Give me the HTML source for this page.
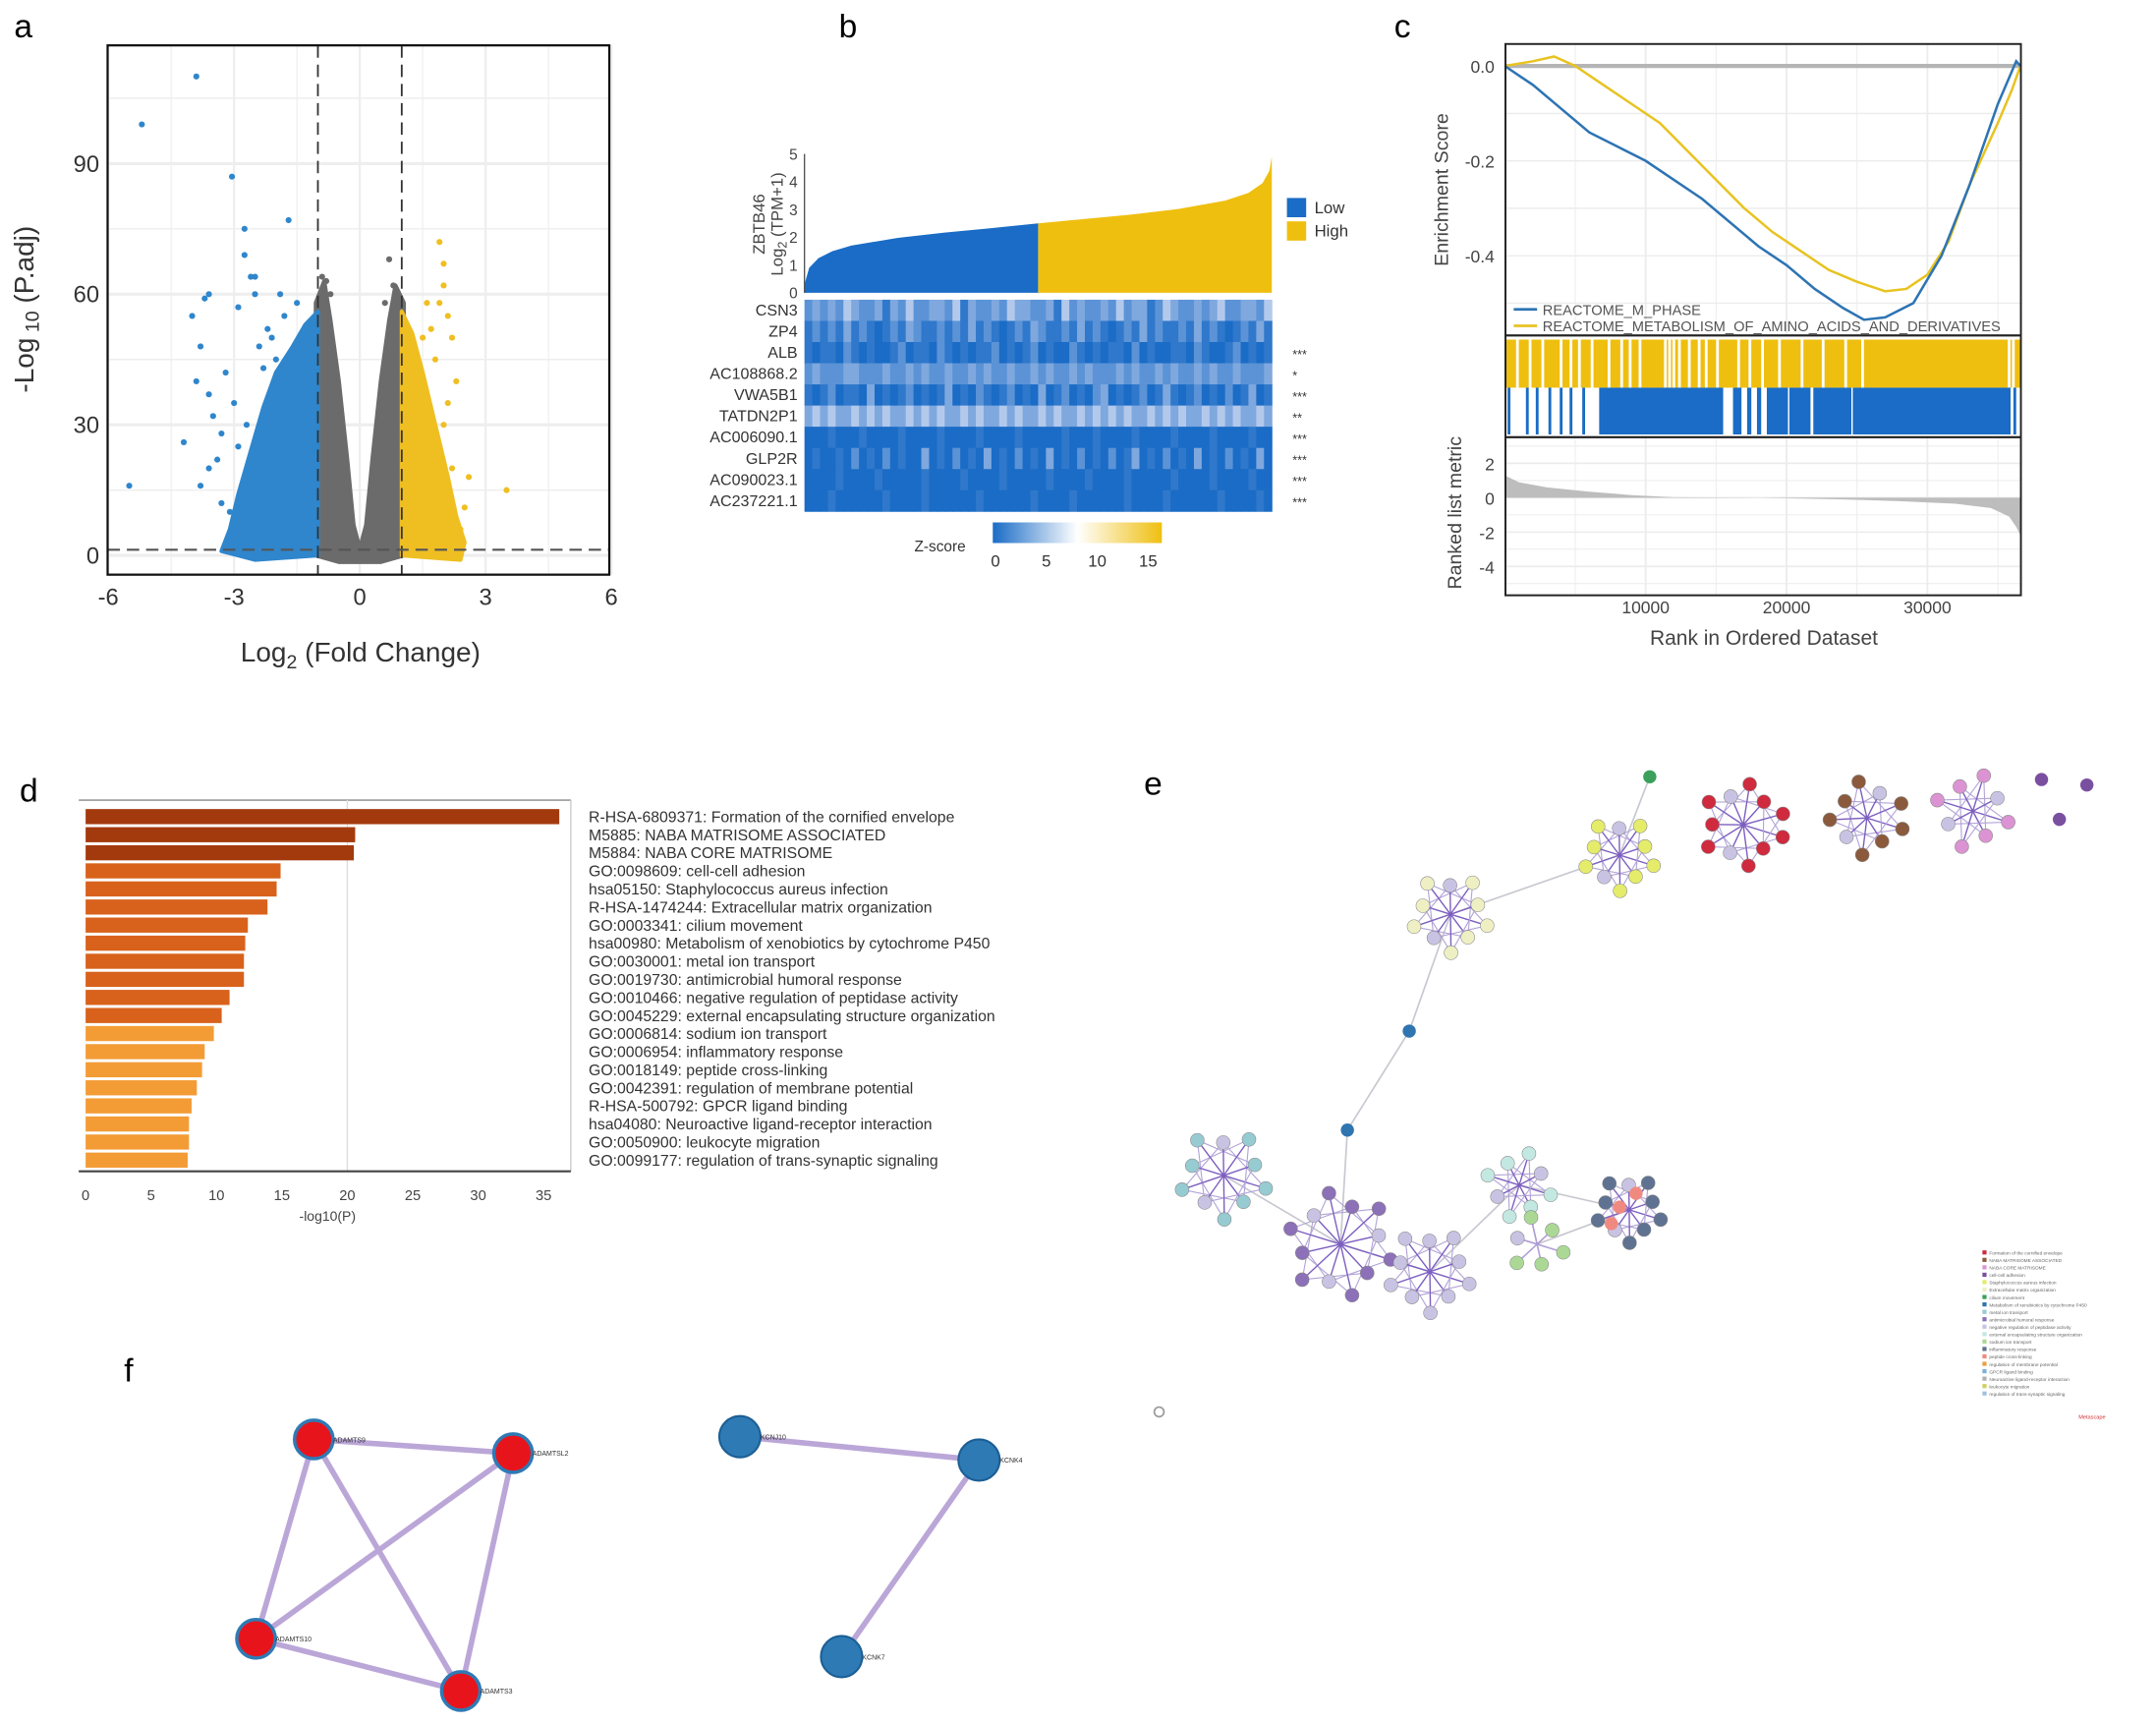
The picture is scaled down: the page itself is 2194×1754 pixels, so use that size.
<!DOCTYPE html>
<html><head><meta charset="utf-8"><style>
html,body{margin:0;padding:0;background:#fff;}
svg{display:block;font-family:"Liberation Sans",sans-serif;}
</style></head><body>
<svg id="fig" width="2194" height="1754" viewBox="0 0 1568 1254" xmlns="http://www.w3.org/2000/svg">
<defs>
<linearGradient id="zg" x1="0" x2="1" y1="0" y2="0">
<stop offset="0" stop-color="#1a6cc6"/><stop offset="0.5" stop-color="#ffffff"/><stop offset="1" stop-color="#efbf10"/>
</linearGradient>
</defs>
<rect x="0" y="0" width="1568" height="1254" fill="#fff"/>
<text x="10" y="27" font-size="24">a</text>
<text x="610" y="27" font-size="24">b</text>
<text x="1014" y="27" font-size="24">c</text>
<text x="14" y="583" font-size="24">d</text>
<text x="832" y="578" font-size="24">e</text>
<text x="90" y="1005" font-size="24">f</text>
<g id="pa"></g>
<g id="pb"></g>
<g id="pc"></g>
<g id="pd"></g>
<g id="pe"></g>
<g id="pf"></g>
</svg>
<script>
// ---------- DATA ----------
// Panel a
const volcXTicks=[-6,-3,0,3,6];
const volcYTicks=[0,30,60,90];
const grayCloud=[[-1.05,0],[-1.05,58],[-0.85,63],[-0.7,54],[-0.5,40],[-0.3,22],[-0.15,7],[0,1.5],[0.15,7],[0.3,22],[0.5,40],[0.7,54],[0.85,62],[1.05,58],[1.05,0],[0.5,-1.5],[-0.5,-1.5]];
const blueCloud=[[-1,0],[-1,56],[-1.3,53],[-1.6,48],[-2,42],[-2.3,34],[-2.6,24],[-2.9,14],[-3.1,6],[-3.3,1],[-2.5,-1]];
const yellowCloud=[[1,0],[1,56],[1.25,51],[1.5,42],[1.8,30],[2.1,18],[2.3,9],[2.5,3],[2.4,-1]];
const bluePts=[[-3.9,110],[-5.2,99],[-3.05,87],[-1.7,77],[-2.75,75],[-2.75,69],[-2.6,64],[-2.5,64],[-3.6,60],[-3.7,59],[-2.5,60],[-2.9,57],[-4.0,55],[-3.8,48],[-3.2,42],[-3.9,40],[-3.6,37],[-3.5,32],[-4.2,26],[-3.8,16],[-5.5,16],[-3.4,22],[-2.2,52],[-2.0,45],[-1.8,55],[-3.3,12],[-3.1,10],[-2.8,8],[-2.4,48],[-2.1,50],[-1.5,58],[-3.0,35],[-3.3,28],[-2.9,25],[-2.7,30],[-3.6,20],[-1.9,60],[-2.3,43]];
const yellowPts=[[1.9,72],[2.0,67],[2.0,62],[1.9,58],[2.1,55],[2.2,50],[1.7,52],[2.3,40],[2.0,30],[2.2,20],[3.5,15],[2.5,11],[2.2,7],[2.4,6],[1.6,58],[1.5,50],[1.8,45],[2.1,35],[1.9,25],[2.6,18]];
const grayPts=[[0.7,68],[-0.8,63],[-0.9,64],[-0.7,60],[0.8,62],[0.6,58]];
// Panel b
const bFrac=[0,0.01,0.03,0.06,0.1,0.2,0.3,0.4,0.5,0.6,0.7,0.8,0.9,0.95,0.98,0.995,1];
const bVal=[0.3,0.9,1.25,1.5,1.7,1.98,2.17,2.33,2.5,2.66,2.82,3.02,3.32,3.6,3.95,4.4,4.9];
const bYTicks=[0,1,2,3,4,5];
const genes=["CSN3","ZP4","ALB","AC108868.2","VWA5B1","TATDN2P1","AC006090.1","GLP2R","AC090023.1","AC237221.1"];
const sig=["","","***","*","***","**","***","***","***","***"];
const heatRows=[
"232324322313242233241322324332231423223242331243223234223324",
"121213121012132112121312101213211213121012131211213121012131",
"101102101001201102101011201012010021010110201001102100120101",
"232223322232232322322323223223232232322232322323223232232223",
"101201103010120101301021012010301201023010120131012010201301",
"343433434343343434334343343433434334343434334343433434343343",
"000100010000100001000010000100000100010000100001000010000100",
"010010201020100301020103010201030102010201301020103010201030",
"000010000100000100001000010000010000100001000001000010000100",
"000100000010000100000010000001000010000001000010000001000010"];
const zTicks=[0,5,10,15];
// Panel c
const blueES=[[0,0],[1000,-0.02],[2000,-0.04],[4000,-0.09],[6000,-0.14],[8000,-0.17],[10000,-0.2],[12000,-0.24],[14000,-0.28],[16000,-0.33],[18000,-0.38],[20000,-0.42],[22000,-0.47],[24000,-0.51],[25500,-0.535],[27000,-0.53],[29000,-0.5],[31000,-0.4],[33000,-0.25],[35000,-0.08],[36300,0.01],[36600,0]];
const yellowES=[[0,0],[2000,0.01],[3500,0.02],[5000,0.0],[7000,-0.04],[9000,-0.08],[11000,-0.12],[13000,-0.18],[15000,-0.24],[17000,-0.3],[19000,-0.35],[21000,-0.39],[23000,-0.43],[25000,-0.455],[27000,-0.475],[28500,-0.47],[30000,-0.44],[31500,-0.37],[33000,-0.25],[35000,-0.12],[36000,-0.05],[36600,0]];
const yellowGaps=[800,1700,2600,3900,4600,5200,6100,7300,8200,8800,9500,11300,11600,11900,12300,13000,13700,14200,15000,16500,17300,18200,19400,21000,22500,24100,25300,35700,36000];
const blueHits=[[200,400],[1500,1700],[2200,2400],[3100,3300],[3900,4100],[4600,4800],[5500,5700],[6700,15500],[16200,16800],[17200,17500],[17900,18200],[18600,20100],[20200,21700],[21900,24600],[24700,35900],[36100,36300]];
const metric=[[0,1.3],[1000,0.9],[3000,0.6],[6000,0.35],[9000,0.15],[12000,0.03],[18000,0],[24000,-0.1],[28000,-0.2],[32000,-0.35],[34500,-0.6],[35800,-1.1],[36300,-1.7],[36600,-2.2]];
const rankTicks=[10000,20000,30000];
const esTicks=[0,-0.2,-0.4];
const metricTicks=[2,0,-2,-4];
// Panel d
const terms=["R-HSA-6809371: Formation of the cornified envelope","M5885: NABA MATRISOME ASSOCIATED","M5884: NABA CORE MATRISOME","GO:0098609: cell-cell adhesion","hsa05150: Staphylococcus aureus infection","R-HSA-1474244: Extracellular matrix organization","GO:0003341: cilium movement","hsa00980: Metabolism of xenobiotics by cytochrome P450","GO:0030001: metal ion transport","GO:0019730: antimicrobial humoral response","GO:0010466: negative regulation of peptidase activity","GO:0045229: external encapsulating structure organization","GO:0006814: sodium ion transport","GO:0006954: inflammatory response","GO:0018149: peptide cross-linking","GO:0042391: regulation of membrane potential","R-HSA-500792: GPCR ligand binding","hsa04080: Neuroactive ligand-receptor interaction","GO:0050900: leukocyte migration","GO:0099177: regulation of trans-synaptic signaling"];
const logP=[36.2,20.6,20.5,14.9,14.6,13.9,12.4,12.2,12.1,12.1,11.0,10.4,9.8,9.1,8.9,8.5,8.1,7.9,7.9,7.8];
const dTicks=[0,5,10,15,20,25,30,35];
// Panel e clusters: [cx, cy, radius, count, fill]
const clusters=[[1178,622,26,10,"#e4ec6a"],[1268,600,30,11,"#cf2a3e"],[1358,595,27,9,"#8b5a3c"],[1435,590,27,8,"#dc93d3"],[1055,665,28,10,"#eef0c4"],[890,855,32,10,"#96cbd2"],[975,905,38,12,"#8c70b8"],[1040,925,30,10,"#c9c3e3"],[1105,862,24,8,"#c3e8e2"],[1118,905,20,6,"#abd995"],[1185,880,24,10,"#5f7291"]];
const singles=[[1200,565,"#3aa05a"],[1025,750,"#2f75b0"],[980,822,"#2f75b0"],[1485,567,"#7a4fa0"],[1518,571,"#7a4fa0"],[1498,596,"#7a4fa0"],[1178,878,"#f08a80"],[1190,868,"#f08a80"],[1172,890,"#f08a80"]];
const longEdges=[[1055,665,1178,622],[1055,665,1025,750],[1025,750,980,822],[980,822,975,905],[975,905,890,855],[1040,925,1105,862],[1105,862,1185,880],[1118,905,1185,880],[1178,622,1200,565],[975,905,1040,925]];
const legendTerms=["Formation of the cornified envelope","NABA MATRISOME ASSOCIATED","NABA CORE MATRISOME","cell-cell adhesion","Staphylococcus aureus infection","Extracellular matrix organization","cilium movement","Metabolism of xenobiotics by cytochrome P450","metal ion transport","antimicrobial humoral response","negative regulation of peptidase activity","external encapsulating structure organization","sodium ion transport","inflammatory response","peptide cross-linking","regulation of membrane potential","GPCR ligand binding","Neuroactive ligand-receptor interaction","leukocyte migration","regulation of trans-synaptic signaling"];
const legendColors=["#cf2a3e","#8b5a3c","#dc93d3","#7a4fa0","#e4ec6a","#eef0c4","#3aa05a","#2f75b0","#96cbd2","#8c70b8","#c9c3e3","#c3e8e2","#abd995","#5f7291","#f08a80","#e8a040","#7fb0d8","#b0b0b0","#d0d060","#a0c0e0"];
// Panel f
const redNodes=[[228,1047,"ADAMTS9"],[373,1057,"ADAMTSL2"],[186,1192,"ADAMTS10"],[335,1230,"ADAMTS3"]];
const redEdges=[[0,1],[0,2],[0,3],[1,2],[1,3],[2,3]];
const blueNodes=[[538,1045,"KCNJ10"],[712,1062,"KCNK4"],[612,1205,"KCNK7"]];
const blueEdges=[[0,1],[1,2]];

// ---------- HELPERS ----------
const NS="http://www.w3.org/2000/svg";
function mk(tag,parent,attrs){const e=document.createElementNS(NS,tag);for(const k in attrs)e.setAttribute(k,attrs[k]);parent.appendChild(e);return e;}
function txt(parent,x,y,s,size,anchor,extra){const e=mk('text',parent,Object.assign({x:x,y:y,'font-size':size,'text-anchor':anchor||'start'},extra||{}));e.textContent=s;return e;}
function pathFrom(pts,fx,fy){return pts.map((p,i)=>(i?'L':'M')+fx(p[0]).toFixed(2)+' '+fy(p[1]).toFixed(2)).join(' ');}

// ---------- PANEL A ----------
(function(){
const g=document.getElementById('pa');
const X=v=>261.5+v*30.5, Y=v=>404-v*3.167;
const L=78,R=443,T=33,B=418;
for(let v=-6;v<=6;v+=1.5){const e=mk('line',g,{x1:X(v),x2:X(v),y1:T,y2:B,stroke:'#eeeeee','stroke-width':(v%3===0)?1.6:0.8});

}
for(let v=-15;v<=120;v+=15){if(Y(v)<T||Y(v)>B)continue;const e=mk('line',g,{x1:L,x2:R,y1:Y(v),y2:Y(v),stroke:'#eeeeee','stroke-width':(v%30===0)?2.2:1});

}
[[grayCloud,'#6b6b6b'],[blueCloud,'#2f86cc'],[yellowCloud,'#efbf22']].forEach(c=>{const e=mk('path',g,{d:pathFrom(c[0],X,Y)+'Z',fill:c[1],stroke:c[1],'stroke-width':3,'stroke-linejoin':'round'});

});
[[bluePts,'#2f86cc'],[yellowPts,'#efbf22'],[grayPts,'#6b6b6b']].forEach(c=>c[0].forEach(p=>{const e=mk('circle',g,{cx:X(p[0]),cy:Y(p[1]),r:2.2,fill:c[1]});

}));
[-1,1].forEach(v=>{const e=mk('line',g,{x1:X(v),x2:X(v),y1:T,y2:B,stroke:'#333','stroke-width':1.3,'stroke-dasharray':'9,5'});

});
const h=mk('line',g,{x1:L,x2:R,y1:Y(1.3),y2:Y(1.3),stroke:'#555','stroke-width':1.5,'stroke-dasharray':'9,5'});


const box=mk('rect',g,{x:L,y:T,width:R-L,height:B-T,fill:'none',stroke:'#111','stroke-width':1.6});


volcXTicks.forEach(v=>{const e=txt(g,X(v),440,String(v),17,'middle',{fill:'#333'});

});
volcYTicks.forEach(v=>{const e=txt(g,72,Y(v)+6,String(v),17,'end',{fill:'#333'});

});
const xt=mk('text',g,{x:262,y:481,'font-size':20,'text-anchor':'middle',fill:'#333'});
xt.innerHTML='Log<tspan font-size="14" dy="5">2</tspan><tspan dy="-5"> (Fold Change)</tspan>';


const yt=mk('text',g,{x:0,y:0,'font-size':20,'text-anchor':'middle',fill:'#333',transform:'translate(24,225) rotate(-90)'});
yt.innerHTML='-Log<tspan font-size="14" dy="4"> 10</tspan><tspan dy="-4"> (P.adj)</tspan>';


})();

// ---------- PANEL B ----------
(function(){
const g=document.getElementById('pb');
const x0=585,x1=925,W=x1-x0;
const X=f=>x0+f*W, Y=v=>213-v*20.2;
const mid=bFrac.indexOf(0.5);
const lowPts=bFrac.slice(0,mid+1).map((f,i)=>[f,bVal[i]]);
const hiPts=bFrac.slice(mid).map((f,i)=>[f,bVal[i+mid]]);
const lp=mk('path',g,{d:'M'+X(0)+' '+Y(0)+' '+pathFrom(lowPts,X,Y).replace('M','L')+' L'+X(0.5)+' '+Y(0)+'Z',fill:'#1a6cc6'});


const hp=mk('path',g,{d:'M'+X(0.5)+' '+Y(0)+' '+pathFrom(hiPts,X,Y).replace('M','L')+' L'+X(1)+' '+Y(0)+'Z',fill:'#efbf10'});


const ax=mk('line',g,{x1:x0,x2:x0,y1:Y(5),y2:Y(0),stroke:'#555','stroke-width':1});


bYTicks.forEach(v=>{const e=txt(g,580,Y(v)+4,String(v),11,'end',{fill:'#444'});

});
const t1=txt(g,0,0,'ZBTB46',12,'middle',{fill:'#444',transform:'translate(556,163) rotate(-90)'});


const t2=mk('text',g,{x:0,y:0,'font-size':12,'text-anchor':'middle',fill:'#444',transform:'translate(569,163) rotate(-90)'});
t2.innerHTML='Log<tspan font-size="9" dy="3">2</tspan><tspan dy="-3"> (TPM+1)</tspan>';


[['#1a6cc6','Low',150],['#efbf10','High',167]].forEach(l=>{const r=mk('rect',g,{x:936,y:l[2]-6,width:14,height:14,fill:l[0]});


const t=txt(g,956,l[2]+5,l[1],12,'start',{fill:'#333'});

});
const lv=['#1a6cc6','#2f78cb','#5b93d6','#7fa8de','#b3c9ec'];
const hy0=218,rh=15.4;
heatRows.forEach((row,ri)=>{const cw=W/row.length;
for(let c=0;c<row.length;c++){const e=mk('rect',g,{x:(x0+c*cw).toFixed(2),y:hy0+ri*rh,width:(cw+0.4).toFixed(2),height:rh+0.3,fill:lv[+row[c]]});

}
const gl=txt(g,580,hy0+ri*rh+11.5,genes[ri],11.5,'end',{fill:'#333'});


const s=txt(g,940,hy0+ri*rh+12,sig[ri],9,'start',{fill:'#333'});

});
const cb=mk('rect',g,{x:722,y:380,width:123,height:15,fill:'url(#zg)'});


const zl=txt(g,665,401,'Z-score',11,'start',{fill:'#333'});


zTicks.forEach(v=>{const e=txt(g,724+v*7.4,412,String(v),12,'middle',{fill:'#333'});

});
})();

// ---------- PANEL C ----------
(function(){
const g=document.getElementById('pc');
const X=r=>1094.5+r*0.01025, Y=v=>48-v*345, M=v=>362-v*12.5;
const L=1095,R=1470;
for(let r=5000;r<36600;r+=5000){const e=mk('line',g,{x1:X(r),x2:X(r),y1:32,y2:244,stroke:'#ececec','stroke-width':r%10000?0.7:1.3});


const e2=mk('line',g,{x1:X(r),x2:X(r),y1:318,y2:433,stroke:'#ececec','stroke-width':r%10000?0.7:1.3});

}
for(let v=0.1;v>-0.6;v-=0.1){if(Y(v)<32||Y(v)>244)continue;const e=mk('line',g,{x1:L,x2:R,y1:Y(v),y2:Y(v),stroke:'#ececec','stroke-width':1});

}
for(let v=3;v>=-5;v-=1){if(M(v)<318||M(v)>433)continue;const e=mk('line',g,{x1:L,x2:R,y1:M(v),y2:M(v),stroke:'#ececec','stroke-width':v%2?0.7:1.2});

}
const z=mk('line',g,{x1:L,x2:R,y1:Y(0),y2:Y(0),stroke:'#b5b5b5','stroke-width':3});


const yl=mk('path',g,{d:pathFrom(yellowES,X,Y),fill:'none',stroke:'#e8c321','stroke-width':1.8});


const bl=mk('path',g,{d:pathFrom(blueES,X,Y),fill:'none',stroke:'#2d74b3','stroke-width':1.8});


const yb=mk('rect',g,{x:X(0),y:247,width:X(36600)-X(0),height:35,fill:'#efbf10'});


yellowGaps.forEach(r=>{const e=mk('rect',g,{x:X(r),y:247,width:2,height:35,fill:'#fff'});

});
blueHits.forEach(s=>{const e=mk('rect',g,{x:X(s[0]),y:282,width:Math.max(1.5,X(s[1])-X(s[0])),height:34,fill:'#1a6cc6'});

});
const mp=mk('path',g,{d:pathFrom(metric,X,M)+' L'+X(36600)+' '+M(0)+' L'+X(0)+' '+M(0)+'Z',fill:'#bdbdbd'});


[[32,244],[244,318],[318,433]].forEach(b=>{const e=mk('rect',g,{x:L,y:b[0],width:R-L,height:b[1]-b[0],fill:'none',stroke:'#222','stroke-width':1.4});

});
esTicks.forEach(v=>{const e=txt(g,1087,Y(v)+5,v.toFixed(1),12.5,'end',{fill:'#444'});

});
metricTicks.forEach(v=>{const e=txt(g,1087,M(v)+5,String(v),12.5,'end',{fill:'#444'});

});
rankTicks.forEach(r=>{const e=txt(g,X(r),446,String(r),12.5,'middle',{fill:'#444'});

});
const a1=txt(g,0,0,'Enrichment Score',14,'middle',{fill:'#444',transform:'translate(1053,138) rotate(-90)'});


const a2=txt(g,0,0,'Ranked list metric',14,'middle',{fill:'#444',transform:'translate(1063,373) rotate(-90)'});


const a3=txt(g,1283,469,'Rank in Ordered Dataset',15,'middle',{fill:'#444'});


[['#2d74b3','REACTOME_M_PHASE',225],['#e8c321','REACTOME_METABOLISM_OF_AMINO_ACIDS_AND_DERIVATIVES',237]].forEach(l=>{const e=mk('line',g,{x1:1101,x2:1118,y1:l[2],y2:l[2],stroke:l[0],'stroke-width':2});


const t=txt(g,1122,l[2]+4,l[1],10.5,'start',{fill:'#555'});

});
})();

// ---------- PANEL D ----------
(function(){
const g=document.getElementById('pd');
const X=v=>62+v*9.52;
const fr=mk('line',g,{x1:57,x2:415,y1:582,y2:582,stroke:'#888','stroke-width':1});


const fl=mk('line',g,{x1:415,x2:415,y1:582,y2:852,stroke:'#ccc','stroke-width':1});


const gl=mk('line',g,{x1:X(20),x2:X(20),y1:582,y2:852,stroke:'#ddd','stroke-width':1});


logP.forEach((v,i)=>{const col=i<3?'#a33a0e':(i<12?'#d8621c':'#f39c36');
const y=594+i*13.15;
const b=mk('rect',g,{x:X(0),y:(y-5.5).toFixed(2),width:(X(v)-X(0)).toFixed(2),height:11,fill:col});


const t=txt(g,428,y+4,terms[i],11.3,'start',{fill:'#333'});

});
const ax=mk('line',g,{x1:57,x2:415,y1:852,y2:852,stroke:'#444','stroke-width':1.5});


dTicks.forEach(v=>{const e=txt(g,X(v),873,String(v),10.5,'middle',{fill:'#444'});

});
const xt=txt(g,238,888,'-log10(P)',10,'middle',{fill:'#444'});


})();

// ---------- PANEL E ----------
(function(){
const g=document.getElementById('pe');
longEdges.forEach(e0=>{const e=mk('line',g,{x1:e0[0],y1:e0[1],x2:e0[2],y2:e0[3],stroke:'#c8c8d0','stroke-width':1.2});

});
clusters.forEach(c=>{const pts=[];
for(let k=0;k<c[3];k++){const a=k*2*Math.PI/c[3]+0.3;const rr=c[2]*(k%2?0.75:1);pts.push([c[0]+rr*Math.cos(a),c[1]+rr*Math.sin(a)]);}
pts.forEach((p,k)=>{const e=mk('line',g,{x1:c[0],y1:c[1],x2:p[0],y2:p[1],stroke:'#7d5fc0','stroke-width':1});


const q=pts[(k+3)%pts.length];const e2=mk('line',g,{x1:p[0],y1:p[1],x2:q[0],y2:q[1],stroke:'#b3a4d8','stroke-width':0.8});

});
pts.forEach((p,k)=>{const e=mk('circle',g,{cx:p[0].toFixed(1),cy:p[1].toFixed(1),r:5,fill:(k%4===3)?'#c9c3e3':c[4],stroke:'#888','stroke-width':0.4});

});});
singles.forEach(s=>{const e=mk('circle',g,{cx:s[0],cy:s[1],r:4.8,fill:s[2]});

});
legendTerms.forEach((t,i)=>{const y=912+i*5.4;
const r=mk('rect',g,{x:1442,y:y-2.5,width:3,height:3,fill:legendColors[i]});


const tt=txt(g,1447,y+0.6,t,3.4,'start',{fill:'#666'});

});
const lg=txt(g,1512,1032,'Metascape',4,'start',{fill:'#d03030'});


const ic=mk('circle',g,{cx:843,cy:1027,r:3.5,fill:'none',stroke:'#999','stroke-width':1.2});


})();

// ---------- PANEL F ----------
(function(){
const g=document.getElementById('pf');
redEdges.forEach(e0=>{const a=redNodes[e0[0]],b=redNodes[e0[1]];const e=mk('line',g,{x1:a[0],y1:a[1],x2:b[0],y2:b[1],stroke:'#bba6d8','stroke-width':4});

});
blueEdges.forEach(e0=>{const a=blueNodes[e0[0]],b=blueNodes[e0[1]];const e=mk('line',g,{x1:a[0],y1:a[1],x2:b[0],y2:b[1],stroke:'#bba6d8','stroke-width':4});

});
redNodes.forEach(n=>{const e=mk('circle',g,{cx:n[0],cy:n[1],r:14,fill:'#e8141c',stroke:'#2f7ab5','stroke-width':2.5});


const t=txt(g,n[0]+14,n[1]+2,n[2],5,'start',{fill:'#333'});

});
blueNodes.forEach(n=>{const e=mk('circle',g,{cx:n[0],cy:n[1],r:15,fill:'#2e7ab5',stroke:'#1c5f95','stroke-width':1.5});


const t=txt(g,n[0]+15,n[1]+2,n[2],5,'start',{fill:'#333'});

});
})();
</script>
</body></html>
